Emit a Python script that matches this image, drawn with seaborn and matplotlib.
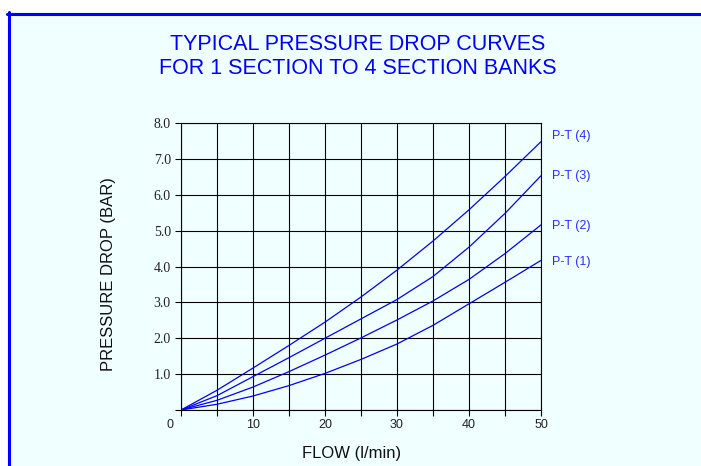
import numpy as np
import pandas as pd
import matplotlib
matplotlib.use("Agg")
import matplotlib.pyplot as plt
import matplotlib.patches as mpatches
import matplotlib.lines as mlines
import matplotlib.transforms as mtransforms
import seaborn as sns

# values (flow in l/min, pressure drop in bar)
flow = [0, 5, 10, 15, 20, 25, 30, 35, 40, 45, 50]
pt1 = [0, 0.16, 0.39, 0.68, 1.02, 1.41, 1.84, 2.36, 2.96, 3.56, 4.17]
pt2 = [0, 0.27, 0.64, 1.07, 1.53, 2.01, 2.51, 3.04, 3.64, 4.36, 5.16]
pt3 = [0, 0.40, 0.93, 1.46, 2.00, 2.54, 3.08, 3.72, 4.54, 5.48, 6.53]
pt4 = [0, 0.55, 1.17, 1.80, 2.45, 3.15, 3.90, 4.71, 5.58, 6.51, 7.48]
series = ["P-T (1)", "P-T (2)", "P-T (3)", "P-T (4)"]

x_ticks = [0, 5, 10, 15, 20, 25, 30, 35, 40, 45, 50]
x_labels = ["0", "", "10", "", "20", "", "30", "", "40", "", "50"]
y_ticks = [0, 1, 2, 3, 4, 5, 6, 7, 8]
y_labels = ["", "1.0", "2.0", "3.0", "4.0", "5.0", "6.0", "7.0", "8.0"]

df = pd.DataFrame({
    "flow": flow * 4,
    "drop": pt1 + pt2 + pt3 + pt4,
    "bank": np.repeat(series, len(flow)),
})

sns.set_theme(style="ticks")
plt.rcParams["font.family"] = ["Liberation Sans", "DejaVu Sans"]

azure = "#f0ffff"
blue = "#0000ff"

fig = plt.figure(figsize=(7.01, 4.66), dpi=100, facecolor="white")

# panel background with blue frame on top and left
W, H = 701, 466
fig.patches.append(mpatches.Rectangle((7 / W, 0), 1 - 7 / W, (H - 12) / H,
                                      transform=fig.transFigure, facecolor=azure,
                                      edgecolor="none", zorder=-2))
fig.lines.append(mlines.Line2D([7 / W, 1], [1 - 13.5 / H, 1 - 13.5 / H],
                               transform=fig.transFigure, color=blue, lw=2.2, zorder=-1))
fig.lines.append(mlines.Line2D([8.5 / W, 8.5 / W], [0, 1 - 12 / H],
                               transform=fig.transFigure, color=blue, lw=2.2, zorder=-1))

ax = fig.add_axes([181 / W, 56 / H, 360 / W, 287 / H])
ax.set_facecolor(azure)

sns.lineplot(data=df, x="flow", y="drop", hue="bank", palette=[blue] * 4,
             lw=0.9, legend=False, estimator=None, ax=ax)

ax.set_xlim(0, 50)
ax.set_ylim(0, 8)
ax.set_xticks(x_ticks, x_labels)
ax.set_yticks(y_ticks, y_labels)
ax.grid(True, color="black", lw=0.8)
ax.set_axisbelow(True)
ax.tick_params(direction="out", length=4.3, width=0.8, color="black",
               labelsize=9, labelcolor="#222222")
ax.tick_params(axis="x", pad=2)
ax.tick_params(axis="y", pad=3)
plt.setp(ax.get_yticklabels(), fontfamily="Liberation Serif", fontsize=10)
for s in ax.spines.values():
    s.set_color("black")
    s.set_linewidth(0.8)

# the "0" under the origin sits a little to the left in the original
lab0 = ax.get_xticklabels()[0]
lab0.set_transform(lab0.get_transform() +
                   mtransforms.ScaledTranslation(-8 / 72, 0, fig.dpi_scale_trans))

ax.set_xlabel("FLOW (l/min)", fontsize=12, color="#111111")
ax.xaxis.set_label_coords(0.475, -0.125)
ax.set_ylabel("PRESSURE DROP (BAR)", fontsize=12, color="#111111")
ax.yaxis.set_label_coords(-0.18, 0.474)

fig.text(358 / W, 1 - 44 / H, "TYPICAL PRESSURE DROP CURVES", ha="center",
         va="center", color=blue, fontsize=15.5)
fig.text(358 / W, 1 - 69 / H, "FOR 1 SECTION TO 4 SECTION BANKS", ha="center",
         va="center", color=blue, fontsize=15.5)

label_dy = [-1, -0.7, 0, 4]
for name, vals, dy in zip(series, [pt1, pt2, pt3, pt4], label_dy):
    ax.annotate(name, xy=(flow[-1], vals[-1]), xytext=(8, dy),
                textcoords="offset points", ha="left", va="center",
                fontsize=9, color="#2a2aff", annotation_clip=False)

fig.savefig("out.png", dpi=100, facecolor="white")
